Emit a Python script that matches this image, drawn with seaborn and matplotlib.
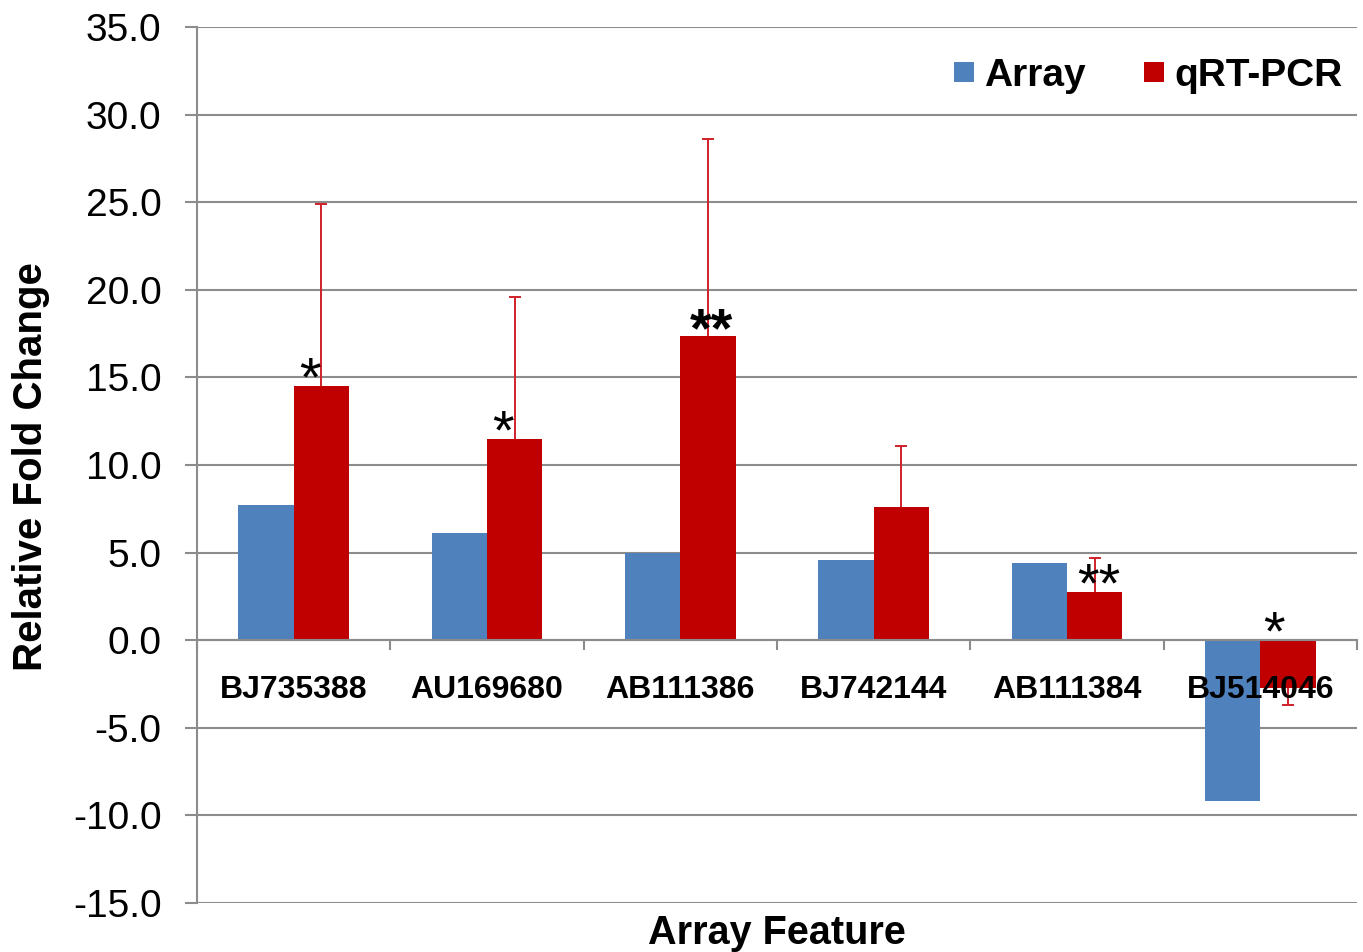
import matplotlib
matplotlib.use("Agg")
import matplotlib.pyplot as plt
from matplotlib.lines import Line2D
from matplotlib.ticker import FixedLocator, FormatStrFormatter
import seaborn as sns
import pandas as pd
import numpy as np

# ---- data ----
features = ["BJ735388", "AU169680", "AB111386", "BJ742144", "AB111384", "BJ514046"]
array_vals = [7.7, 6.1, 5.0, 4.6, 4.4, -9.15]
qrt_vals = [14.5, 11.5, 17.35, 7.6, 2.76, -2.7]
qrt_err_upper = [10.4, 8.1, 11.25, 3.5, 1.96, 0.0]
qrt_err_lower = [0.0, 0.0, 0.0, 0.0, 0.0, 1.0]
stars = ["*", "*", "**", "", "**", "*"]
series = ["Array", "qRT-PCR"]
y_ticks = [-15, -10, -5, 0, 5, 10, 15, 20, 25, 30, 35]

BLUE = "#4F81BD"
RED = "#C00000"
GRID = "#8C8C8C"

df = pd.DataFrame({
    "feature": features * 2,
    "value": array_vals + qrt_vals,
    "method": [series[0]] * len(features) + [series[1]] * len(features),
})

sns.set_theme(style="white")
plt.rcParams["font.family"] = ["Liberation Sans", "DejaVu Sans"]
plt.rcParams["text.color"] = "black"
plt.rcParams["axes.labelcolor"] = "black"
plt.rcParams["xtick.color"] = "black"
plt.rcParams["ytick.color"] = "black"

fig = plt.figure(figsize=(13.63, 9.52), dpi=100)
ax = fig.add_axes([197 / 1363, 1 - 903 / 952, 1160 / 1363, 876 / 952])

sns.barplot(data=df, x="feature", y="value", hue="method", order=features,
            hue_order=series, palette=[BLUE, RED], saturation=1,
            width=0.572, gap=0, errorbar=None, legend=False, ax=ax,
            linewidth=0, zorder=2)

# error bars on qRT-PCR bars: one-sided, away from the axis
qrt_patches = ax.containers[1].patches
xs = [p.get_x() + p.get_width() / 2 for p in qrt_patches]
pos = [i for i, v in enumerate(qrt_vals) if v >= 0]
neg = [i for i, v in enumerate(qrt_vals) if v < 0]
for idx, hide in ((pos, 0), (neg, 1)):
    if not idx:
        continue
    cont = ax.errorbar([xs[i] for i in idx], [qrt_vals[i] for i in idx],
                       yerr=[[qrt_err_lower[i] for i in idx],
                             [qrt_err_upper[i] for i in idx]],
                       fmt="none", ecolor="#D0202A", elinewidth=1.4,
                       capsize=4, capthick=1.4, zorder=1.5)
    caps = cont.lines[1]
    if len(caps) == 2:
        caps[hide].set_visible(False)

# significance stars
for i, s in enumerate(stars):
    if not s:
        continue
    dx = -0.06 if len(s) == 1 else 0.02
    if i == 5:
        dx = -0.07
    ycenter = max(qrt_vals[i], 0) + 0.9
    ax.text(xs[i] + dx, ycenter - 1.45, s, ha="center", va="baseline",
            fontsize=40, color="black",
            fontweight="bold" if i == 2 else "normal", zorder=6)

ax.set_xlim(-0.5, len(features) - 0.5)
ax.set_ylim(-15, 35)
ax.yaxis.set_major_locator(FixedLocator(y_ticks))
ax.yaxis.set_major_formatter(FormatStrFormatter("%.1f"))
ax.grid(axis="y", color=GRID, linewidth=1.5)
ax.set_axisbelow(True)

for side in ["top", "right"]:
    ax.spines[side].set_visible(False)
ax.spines["left"].set_color(GRID)
ax.spines["left"].set_linewidth(1.5)
ax.spines["bottom"].set_position(("data", 0))
ax.spines["bottom"].set_color(GRID)
ax.spines["bottom"].set_linewidth(1.5)
ax.spines["bottom"].set_zorder(2.5)

ax.tick_params(axis="y", which="major", left=True, length=8.6, width=1.5,
               color=GRID, pad=17, labelsize=28, labelcolor="black")
ax.set_xticks(range(len(features)))
ax.set_xticklabels(features, fontsize=23, fontweight="bold", color="black")
ax.set_xticks(np.arange(-0.5, len(features), 1.0), minor=True)
ax.tick_params(axis="x", which="major", bottom=True, length=0, pad=25,
               labelcolor="black")
ax.tick_params(axis="x", which="minor", bottom=True, length=7, width=1.5,
               color=GRID, direction="out")
ax.xaxis.set_zorder(5)
ax.set_xlabel("")
ax.set_ylabel("")

fig.text(777 / 1363, 1 - 944 / 952, "Array Feature", ha="center", va="baseline",
         fontsize=28.5, fontweight="bold", color="black")
fig.text(31 / 1363, 1 - 467 / 952, "Relative Fold Change", rotation=90,
         ha="center", va="center", fontsize=29, fontweight="bold", color="black")

handles = [Line2D([], [], marker="s", linestyle="none", markersize=14.4,
                  markerfacecolor=c, markeredgewidth=0) for c in (BLUE, RED)]
fig.legend(handles, series, loc="center right",
           bbox_to_anchor=(1343 / 1363, 1 - 76 / 952),
           bbox_transform=fig.transFigure, ncol=2, frameon=False,
           prop={"size": 28, "weight": "bold"}, handlelength=0.5,
           handletextpad=0.28, columnspacing=1.5, borderpad=0,
           borderaxespad=0, labelcolor="black")

fig.savefig("out.png", dpi=100)
